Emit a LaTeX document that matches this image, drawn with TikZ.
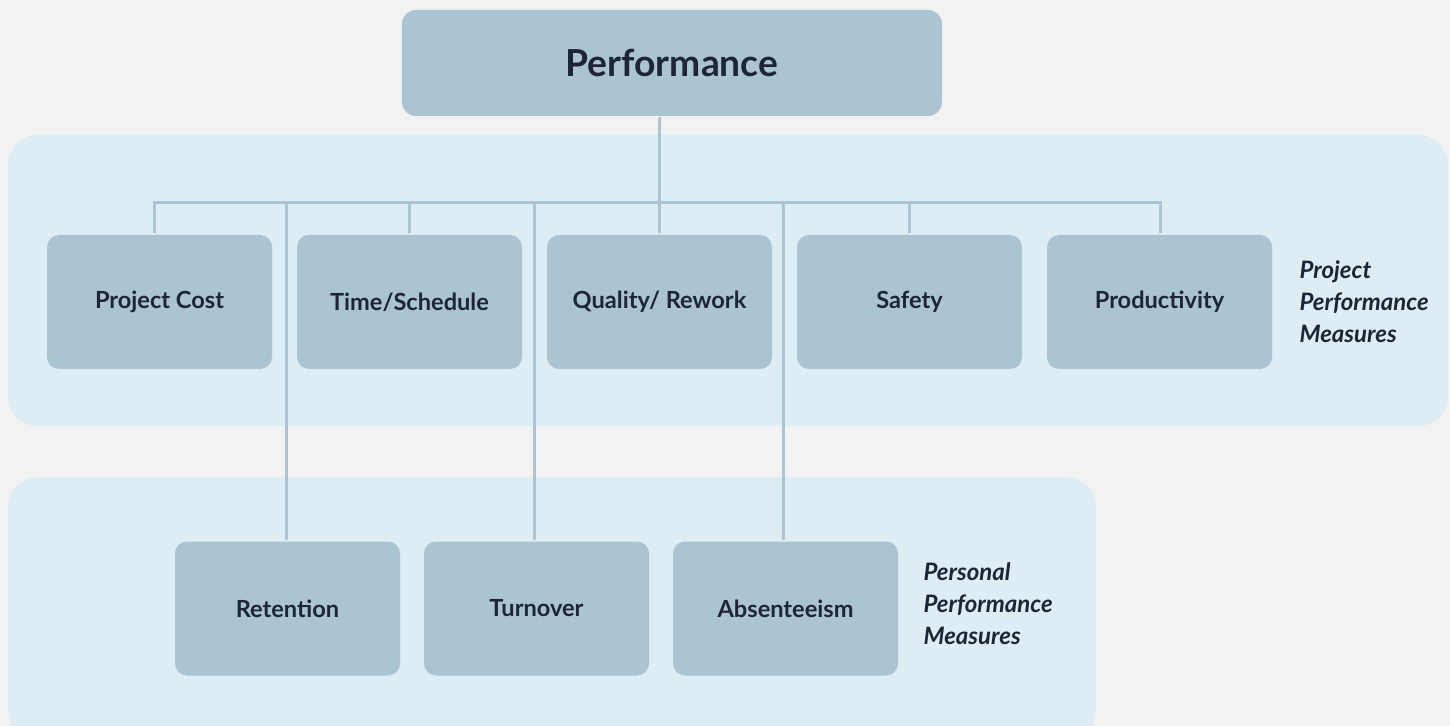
\documentclass[tikz,border=0pt]{standalone}
\usepackage{fontspec}
\setmainfont{Lato}
\definecolor{paper}{HTML}{F2F2F2}
\definecolor{band}{HTML}{DEECF3}
\definecolor{boxblue}{HTML}{ABC4D1}
\definecolor{ink}{HTML}{1D2536}
\begin{document}
\begin{tikzpicture}[x=0.5pt, y=-0.5pt, line width=1.5pt,
  box/.style={fill=boxblue, rounded corners=6pt, minimum width=112.5pt, minimum height=67pt, inner sep=0pt, text=ink, font=\fontsize{11.8}{15}\selectfont\bfseries},
  top/.style={box, rounded corners=7pt, minimum width=270pt, minimum height=53pt, font=\fontsize{18.6}{22}\selectfont\bfseries},
  tag/.style={anchor=west, align=left, inner sep=0pt, text=ink, font=\fontsize{12}{16}\selectfont\bfseries\itshape},
  link/.style={draw=boxblue}]
\useasboundingbox (0,0) rectangle (1450,726);
\fill[paper] (0,0) rectangle (1450,726);
\fill[band, rounded corners=15pt] (8,135) rectangle (1448,426);
\fill[band, rounded corners=15pt] (8,477) rectangle (1096,740);
\node[top] (P_0_0) at (672,63) {Performance};
\node[box] (P_1_0) at (159.5,302) {Project Cost};
\node[box] (P_1_1) at (409.5,302) {Time/Schedule};
\node[box] (P_1_2) at (659.5,302) {Quality/ Rework};
\node[box] (P_1_3) at (909.5,302) {Safety};
\node[box] (P_1_4) at (1159.5,302) {Productivity};
\node[tag] (L_1) at (1298,302) {Project\\Performance\\Measures};
\node[box] (P_2_0) at (287.5,608.5) {Retention};
\node[box] (P_2_1) at (536.5,608.5) {Turnover};
\node[box] (P_2_2) at (785.5,608.5) {Absenteeism};
\node[tag] (L_2) at (922,604) {Personal\\Performance\\Measures};
\coordinate (bus_l) at (154,203);
\coordinate (bus_r) at (1160,203);
\draw[link] (P_1_2.north |- P_0_0.south) -- (P_1_2.north);
\draw[link] (bus_l |- P_1_0.north) -- (bus_l) -- (bus_r) -- (bus_r |- P_1_4.north);
\draw[link] (P_1_1.north |- bus_l) -- (P_1_1.north);
\draw[link] (P_1_3.north |- bus_l) -- (P_1_3.north);
\draw[link] ([xshift=-0.75pt]P_2_0.north |- bus_l) -- ([xshift=-0.75pt]P_2_0.north);
\draw[link] ([xshift=-1pt]P_2_1.north |- bus_l) -- ([xshift=-1pt]P_2_1.north);
\draw[link] ([xshift=-1pt]P_2_2.north |- bus_l) -- ([xshift=-1pt]P_2_2.north);
\end{tikzpicture}
\end{document}
